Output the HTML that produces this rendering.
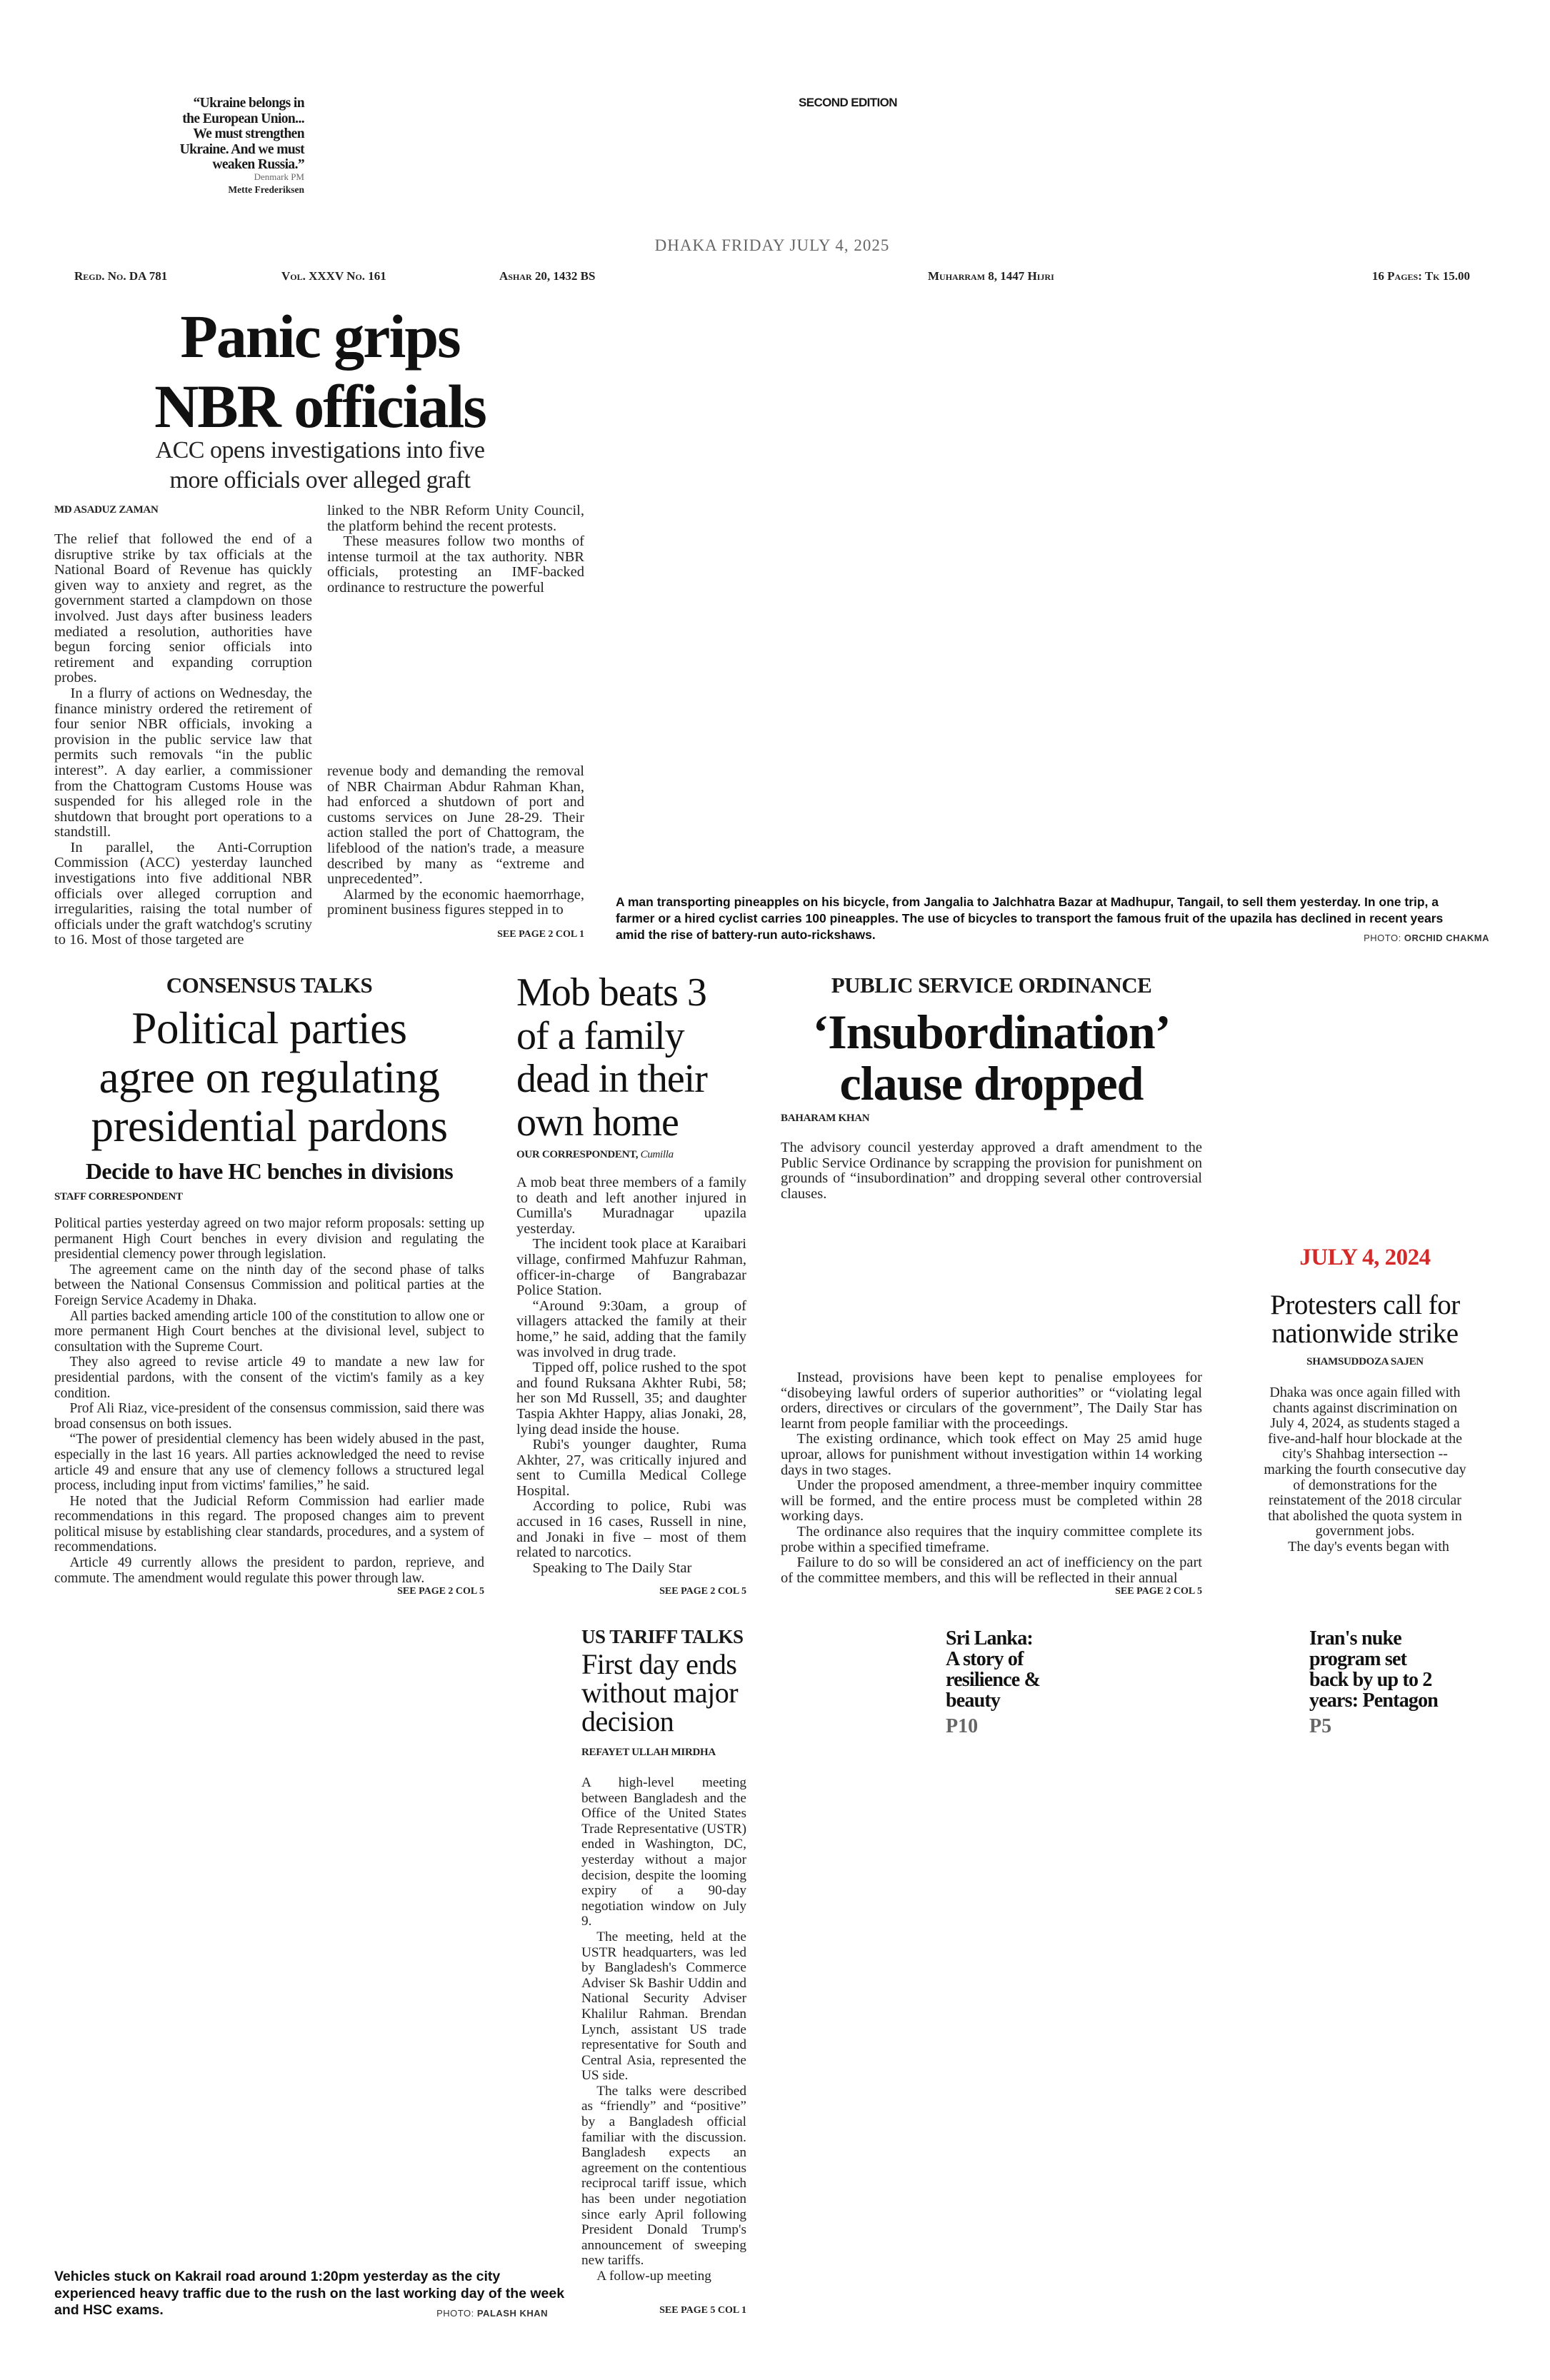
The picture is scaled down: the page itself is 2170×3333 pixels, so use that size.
<!DOCTYPE html>
<html><head><meta charset="utf-8">
<style>
html,body{margin:0;padding:0;background:#fff;}
body{width:2170px;height:3333px;position:relative;overflow:hidden;font-family:"Liberation Serif",serif;color:#1a1a1a;}
.a{position:absolute;}
.body{font-size:18.5px;line-height:21.6px;text-align:justify;color:#222;}
.body p{margin:0;text-indent:1.1em;}
.body p:first-child{text-indent:0;}
.by{font-weight:bold;font-size:15px;letter-spacing:-0.3px;color:#222;}
.see{font-weight:bold;font-size:14px;color:#222;text-align:right;}
.kick{font-weight:bold;text-align:center;color:#1a1a1a;letter-spacing:-0.5px;}
.cap{font-family:"Liberation Sans",sans-serif;font-weight:bold;font-size:17px;line-height:23px;color:#111;}
.fol{font-weight:bold;font-size:17px;font-variant:small-caps;color:#222;top:377px;}
</style></head><body>

<div class="a" style="left:200px;top:134px;width:226px;text-align:right;font-weight:bold;font-size:19.5px;line-height:21.5px;letter-spacing:-0.6px;">“Ukraine belongs in<br>the European Union...<br>We must strengthen<br>Ukraine. And we must<br>weaken Russia.”</div>
<div class="a" style="left:230px;top:240px;width:196px;text-align:right;font-size:13px;color:#666;">Denmark PM</div>
<div class="a" style="left:230px;top:258px;width:196px;text-align:right;font-size:13.5px;font-weight:bold;color:#222;">Mette Frederiksen</div>

<div class="a" style="left:1000px;top:134px;width:374px;text-align:center;font-family:'Liberation Sans',sans-serif;font-weight:bold;font-size:17px;letter-spacing:-0.6px;">SECOND EDITION</div>

<div class="a" style="left:781px;top:331px;width:600px;text-align:center;font-size:23px;color:#666;letter-spacing:1px;">DHAKA FRIDAY JULY 4, 2025</div>

<div class="a fol" style="left:104px;">Regd. No. DA 781</div>
<div class="a fol" style="left:394px;">Vol. XXXV No. 161</div>
<div class="a fol" style="left:699px;">Ashar 20, 1432 BS</div>
<div class="a fol" style="left:1299px;">Muharram 8, 1447 Hijri</div>
<div class="a fol" style="left:1800px;width:258px;text-align:right;">16 Pages: Tk 15.00</div>

<!-- lead -->
<div class="a" style="left:150px;top:422px;width:596px;text-align:center;font-weight:bold;font-size:86px;line-height:98px;letter-spacing:-2px;color:#111;">Panic grips<br>NBR officials</div>
<div class="a" style="left:150px;top:610px;width:596px;text-align:center;font-size:34px;line-height:42px;color:#222;letter-spacing:-0.5px;">ACC opens investigations into five<br>more officials over alleged graft</div>
<div class="a by" style="left:76px;top:706px;">MD ASADUZ ZAMAN</div>
<div class="a body" style="left:76px;top:745px;width:361px;font-size:20.5px;">
<p>The relief that followed the end of a disruptive strike by tax officials at the National Board of Revenue has quickly given way to anxiety and regret, as the government started a clampdown on those involved. Just days after business leaders mediated a resolution, authorities have begun forcing senior officials into retirement and expanding corruption probes.</p>
<p>In a flurry of actions on Wednesday, the finance ministry ordered the retirement of four senior NBR officials, invoking a provision in the public service law that permits such removals “in the public interest”. A day earlier, a commissioner from the Chattogram Customs House was suspended for his alleged role in the shutdown that brought port operations to a standstill.</p>
<p>In parallel, the Anti-Corruption Commission (ACC) yesterday launched investigations into five additional NBR officials over alleged corruption and irregularities, raising the total number of officials under the graft watchdog's scrutiny to 16. Most of those targeted are</p>
</div>
<div class="a body" style="left:458px;top:705px;width:360px;font-size:20.5px;">
<p>linked to the NBR Reform Unity Council, the platform behind the recent protests.</p>
<p style="text-indent:1.1em">These measures follow two months of intense turmoil at the tax authority. NBR officials, protesting an IMF-backed ordinance to restructure the powerful</p>
</div>
<div class="a body" style="left:458px;top:1070px;width:360px;font-size:20.5px;">
<p>revenue body and demanding the removal of NBR Chairman Abdur Rahman Khan, had enforced a shutdown of port and customs services on June 28-29. Their action stalled the port of Chattogram, the lifeblood of the nation's trade, a measure described by many as “extreme and unprecedented”.</p>
<p style="text-indent:1.1em">Alarmed by the economic haemorrhage, prominent business figures stepped in to</p>
</div>
<div class="a see" style="left:600px;top:1301px;width:218px;">SEE PAGE 2 COL 1</div>

<div class="a cap" style="left:862px;top:1252px;width:1190px;font-size:17.5px;">A man transporting pineapples on his bicycle, from Jangalia to Jalchhatra Bazar at Madhupur, Tangail, to sell them yesterday. In one trip, a farmer or a hired cyclist carries 100 pineapples. The use of bicycles to transport the famous fruit of the upazila has declined in recent years amid the rise of battery-run auto-rickshaws.</div>
<div class="a" style="left:1700px;top:1306px;width:385px;text-align:right;font-family:'Liberation Sans',sans-serif;font-size:13px;color:#333;letter-spacing:0.5px;">PHOTO: <b>ORCHID CHAKMA</b></div>

<!-- consensus -->
<div class="a kick" style="left:76px;top:1362px;width:602px;font-size:31px;">CONSENSUS TALKS</div>
<div class="a" style="left:60px;top:1406px;width:634px;text-align:center;font-size:63px;line-height:68.5px;letter-spacing:-0.5px;color:#111;">Political parties<br>agree on regulating<br>presidential pardons</div>
<div class="a" style="left:60px;top:1622px;width:634px;text-align:center;font-weight:bold;font-size:32px;letter-spacing:-0.5px;color:#111;">Decide to have HC benches in divisions</div>
<div class="a by" style="left:76px;top:1668px;">STAFF CORRESPONDENT</div>
<div class="a body" style="left:76px;top:1703px;width:602px;font-size:19.5px;">
<p>Political parties yesterday agreed on two major reform proposals: setting up permanent High Court benches in every division and regulating the presidential clemency power through legislation.</p>
<p>The agreement came on the ninth day of the second phase of talks between the National Consensus Commission and political parties at the Foreign Service Academy in Dhaka.</p>
<p>All parties backed amending article 100 of the constitution to allow one or more permanent High Court benches at the divisional level, subject to consultation with the Supreme Court.</p>
<p>They also agreed to revise article 49 to mandate a new law for presidential pardons, with the consent of the victim's family as a key condition.</p>
<p>Prof Ali Riaz, vice-president of the consensus commission, said there was broad consensus on both issues.</p>
<p>“The power of presidential clemency has been widely abused in the past, especially in the last 16 years. All parties acknowledged the need to revise article 49 and ensure that any use of clemency follows a structured legal process, including input from victims' families,” he said.</p>
<p>He noted that the Judicial Reform Commission had earlier made recommendations in this regard. The proposed changes aim to prevent political misuse by establishing clear standards, procedures, and a system of recommendations.</p>
<p>Article 49 currently allows the president to pardon, reprieve, and commute. The amendment would regulate this power through law.</p>
</div>
<div class="a see" style="left:460px;top:2221px;width:218px;">SEE PAGE 2 COL 5</div>

<!-- mob -->
<div class="a" style="left:723px;top:1360px;width:340px;font-size:56px;line-height:60.5px;letter-spacing:-1px;color:#111;">Mob beats 3<br>of a family<br>dead in their<br>own home</div>
<div class="a by" style="left:723px;top:1609px;">OUR CORRESPONDENT, <i style="font-weight:normal">Cumilla</i></div>
<div class="a body" style="left:723px;top:1646px;width:322px;font-size:20.5px;">
<p>A mob beat three members of a family to death and left another injured in Cumilla's Muradnagar upazila yesterday.</p>
<p>The incident took place at Karaibari village, confirmed Mahfuzur Rahman, officer-in-charge of Bangrabazar Police Station.</p>
<p>“Around 9:30am, a group of villagers attacked the family at their home,” he said, adding that the family was involved in drug trade.</p>
<p>Tipped off, police rushed to the spot and found Ruksana Akhter Rubi, 58; her son Md Russell, 35; and daughter Taspia Akhter Happy, alias Jonaki, 28, lying dead inside the house.</p>
<p>Rubi's younger daughter, Ruma Akhter, 27, was critically injured and sent to Cumilla Medical College Hospital.</p>
<p>According to police, Rubi was accused in 16 cases, Russell in nine, and Jonaki in five – most of them related to narcotics.</p>
<p>Speaking to The Daily Star</p>
</div>
<div class="a see" style="left:827px;top:2221px;width:218px;">SEE PAGE 2 COL 5</div>

<!-- public service -->
<div class="a kick" style="left:1093px;top:1362px;width:590px;font-size:31px;">PUBLIC SERVICE ORDINANCE</div>
<div class="a" style="left:1070px;top:1409px;width:636px;text-align:center;font-weight:bold;font-size:68px;line-height:72px;letter-spacing:-1px;color:#111;">‘Insubordination’<br>clause dropped</div>
<div class="a by" style="left:1093px;top:1558px;">BAHARAM KHAN</div>
<div class="a body" style="left:1093px;top:1597px;width:590px;font-size:20.5px;">
<p>The advisory council yesterday approved a draft amendment to the Public Service Ordinance by scrapping the provision for punishment on grounds of “insubordination” and dropping several other controversial clauses.</p>
</div>
<div class="a body" style="left:1093px;top:1919px;width:590px;font-size:20.5px;">
<p style="text-indent:1.1em">Instead, provisions have been kept to penalise employees for “disobeying lawful orders of superior authorities” or “violating legal orders, directives or circulars of the government”, The Daily Star has learnt from people familiar with the proceedings.</p>
<p>The existing ordinance, which took effect on May 25 amid huge uproar, allows for punishment without investigation within 14 working days in two stages.</p>
<p>Under the proposed amendment, a three-member inquiry committee will be formed, and the entire process must be completed within 28 working days.</p>
<p>The ordinance also requires that the inquiry committee complete its probe within a specified timeframe.</p>
<p>Failure to do so will be considered an act of inefficiency on the part of the committee members, and this will be reflected in their annual</p>
</div>
<div class="a see" style="left:1465px;top:2221px;width:218px;">SEE PAGE 2 COL 5</div>

<!-- july 4 2024 -->
<div class="a" style="left:1758px;top:1743px;width:306px;text-align:center;font-weight:bold;font-size:33px;color:#d42a2a;letter-spacing:-0.5px;">JULY 4, 2024</div>
<div class="a" style="left:1740px;top:1808px;width:342px;text-align:center;font-size:39px;line-height:40px;letter-spacing:-0.5px;color:#111;">Protesters call for<br>nationwide strike</div>
<div class="a by" style="left:1758px;top:1899px;width:306px;text-align:center;">SHAMSUDDOZA SAJEN</div>
<div class="a" style="left:1766px;top:1940px;width:290px;text-align:center;font-size:20px;line-height:21.6px;color:#222;">Dhaka was once again filled with chants against discrimination on July 4, 2024, as students staged a five-and-half hour blockade at the city's Shahbag intersection -- marking the fourth consecutive day of demonstrations for the reinstatement of the 2018 circular that abolished the quota system in government jobs.<br>&nbsp;&nbsp;The day's events began with</div>

<!-- us tariff -->
<div class="a" style="left:814px;top:2277px;font-weight:bold;font-size:27px;letter-spacing:-0.5px;">US TARIFF TALKS</div>
<div class="a" style="left:814px;top:2311px;width:260px;font-size:40px;line-height:40px;letter-spacing:-0.5px;color:#111;">First day ends<br>without major<br>decision</div>
<div class="a by" style="left:814px;top:2446px;">REFAYET ULLAH MIRDHA</div>
<div class="a body" style="left:814px;top:2486px;width:231px;font-size:19.3px;">
<p>A high-level meeting between Bangladesh and the Office of the United States Trade Representative (USTR) ended in Washington, DC, yesterday without a major decision, despite the looming expiry of a 90-day negotiation window on July 9.</p>
<p>The meeting, held at the USTR headquarters, was led by Bangladesh's Commerce Adviser Sk Bashir Uddin and National Security Adviser Khalilur Rahman. Brendan Lynch, assistant US trade representative for South and Central Asia, represented the US side.</p>
<p>The talks were described as “friendly” and “positive” by a Bangladesh official familiar with the discussion. Bangladesh expects an agreement on the contentious reciprocal tariff issue, which has been under negotiation since early April following President Donald Trump's announcement of sweeping new tariffs.</p>
<p>A follow-up meeting</p>
</div>
<div class="a see" style="left:827px;top:3228px;width:218px;">SEE PAGE 5 COL 1</div>

<div class="a cap" style="left:76px;top:3177px;width:720px;font-size:19.5px;line-height:23.5px;">Vehicles stuck on Kakrail road around 1:20pm yesterday as the city<br>experienced heavy traffic due to the rush on the last working day of the week<br>and HSC exams.</div>
<div class="a" style="left:500px;top:3232px;width:267px;text-align:right;font-family:'Liberation Sans',sans-serif;font-size:13px;color:#333;letter-spacing:0.5px;">PHOTO: <b>PALASH KHAN</b></div>

<!-- teasers -->
<div class="a" style="left:1324px;top:2280px;width:240px;font-weight:bold;font-size:28px;line-height:29px;letter-spacing:-0.8px;color:#111;">Sri Lanka:<br>A story of<br>resilience &amp;<br>beauty</div>
<div class="a" style="left:1324px;top:2402px;font-weight:bold;font-size:28px;color:#666;">P10</div>
<div class="a" style="left:1833px;top:2280px;width:260px;font-weight:bold;font-size:28px;line-height:29px;letter-spacing:-0.8px;color:#111;">Iran's nuke<br>program set<br>back by up to 2<br>years: Pentagon</div>
<div class="a" style="left:1833px;top:2402px;font-weight:bold;font-size:28px;color:#666;">P5</div>

</body></html>
